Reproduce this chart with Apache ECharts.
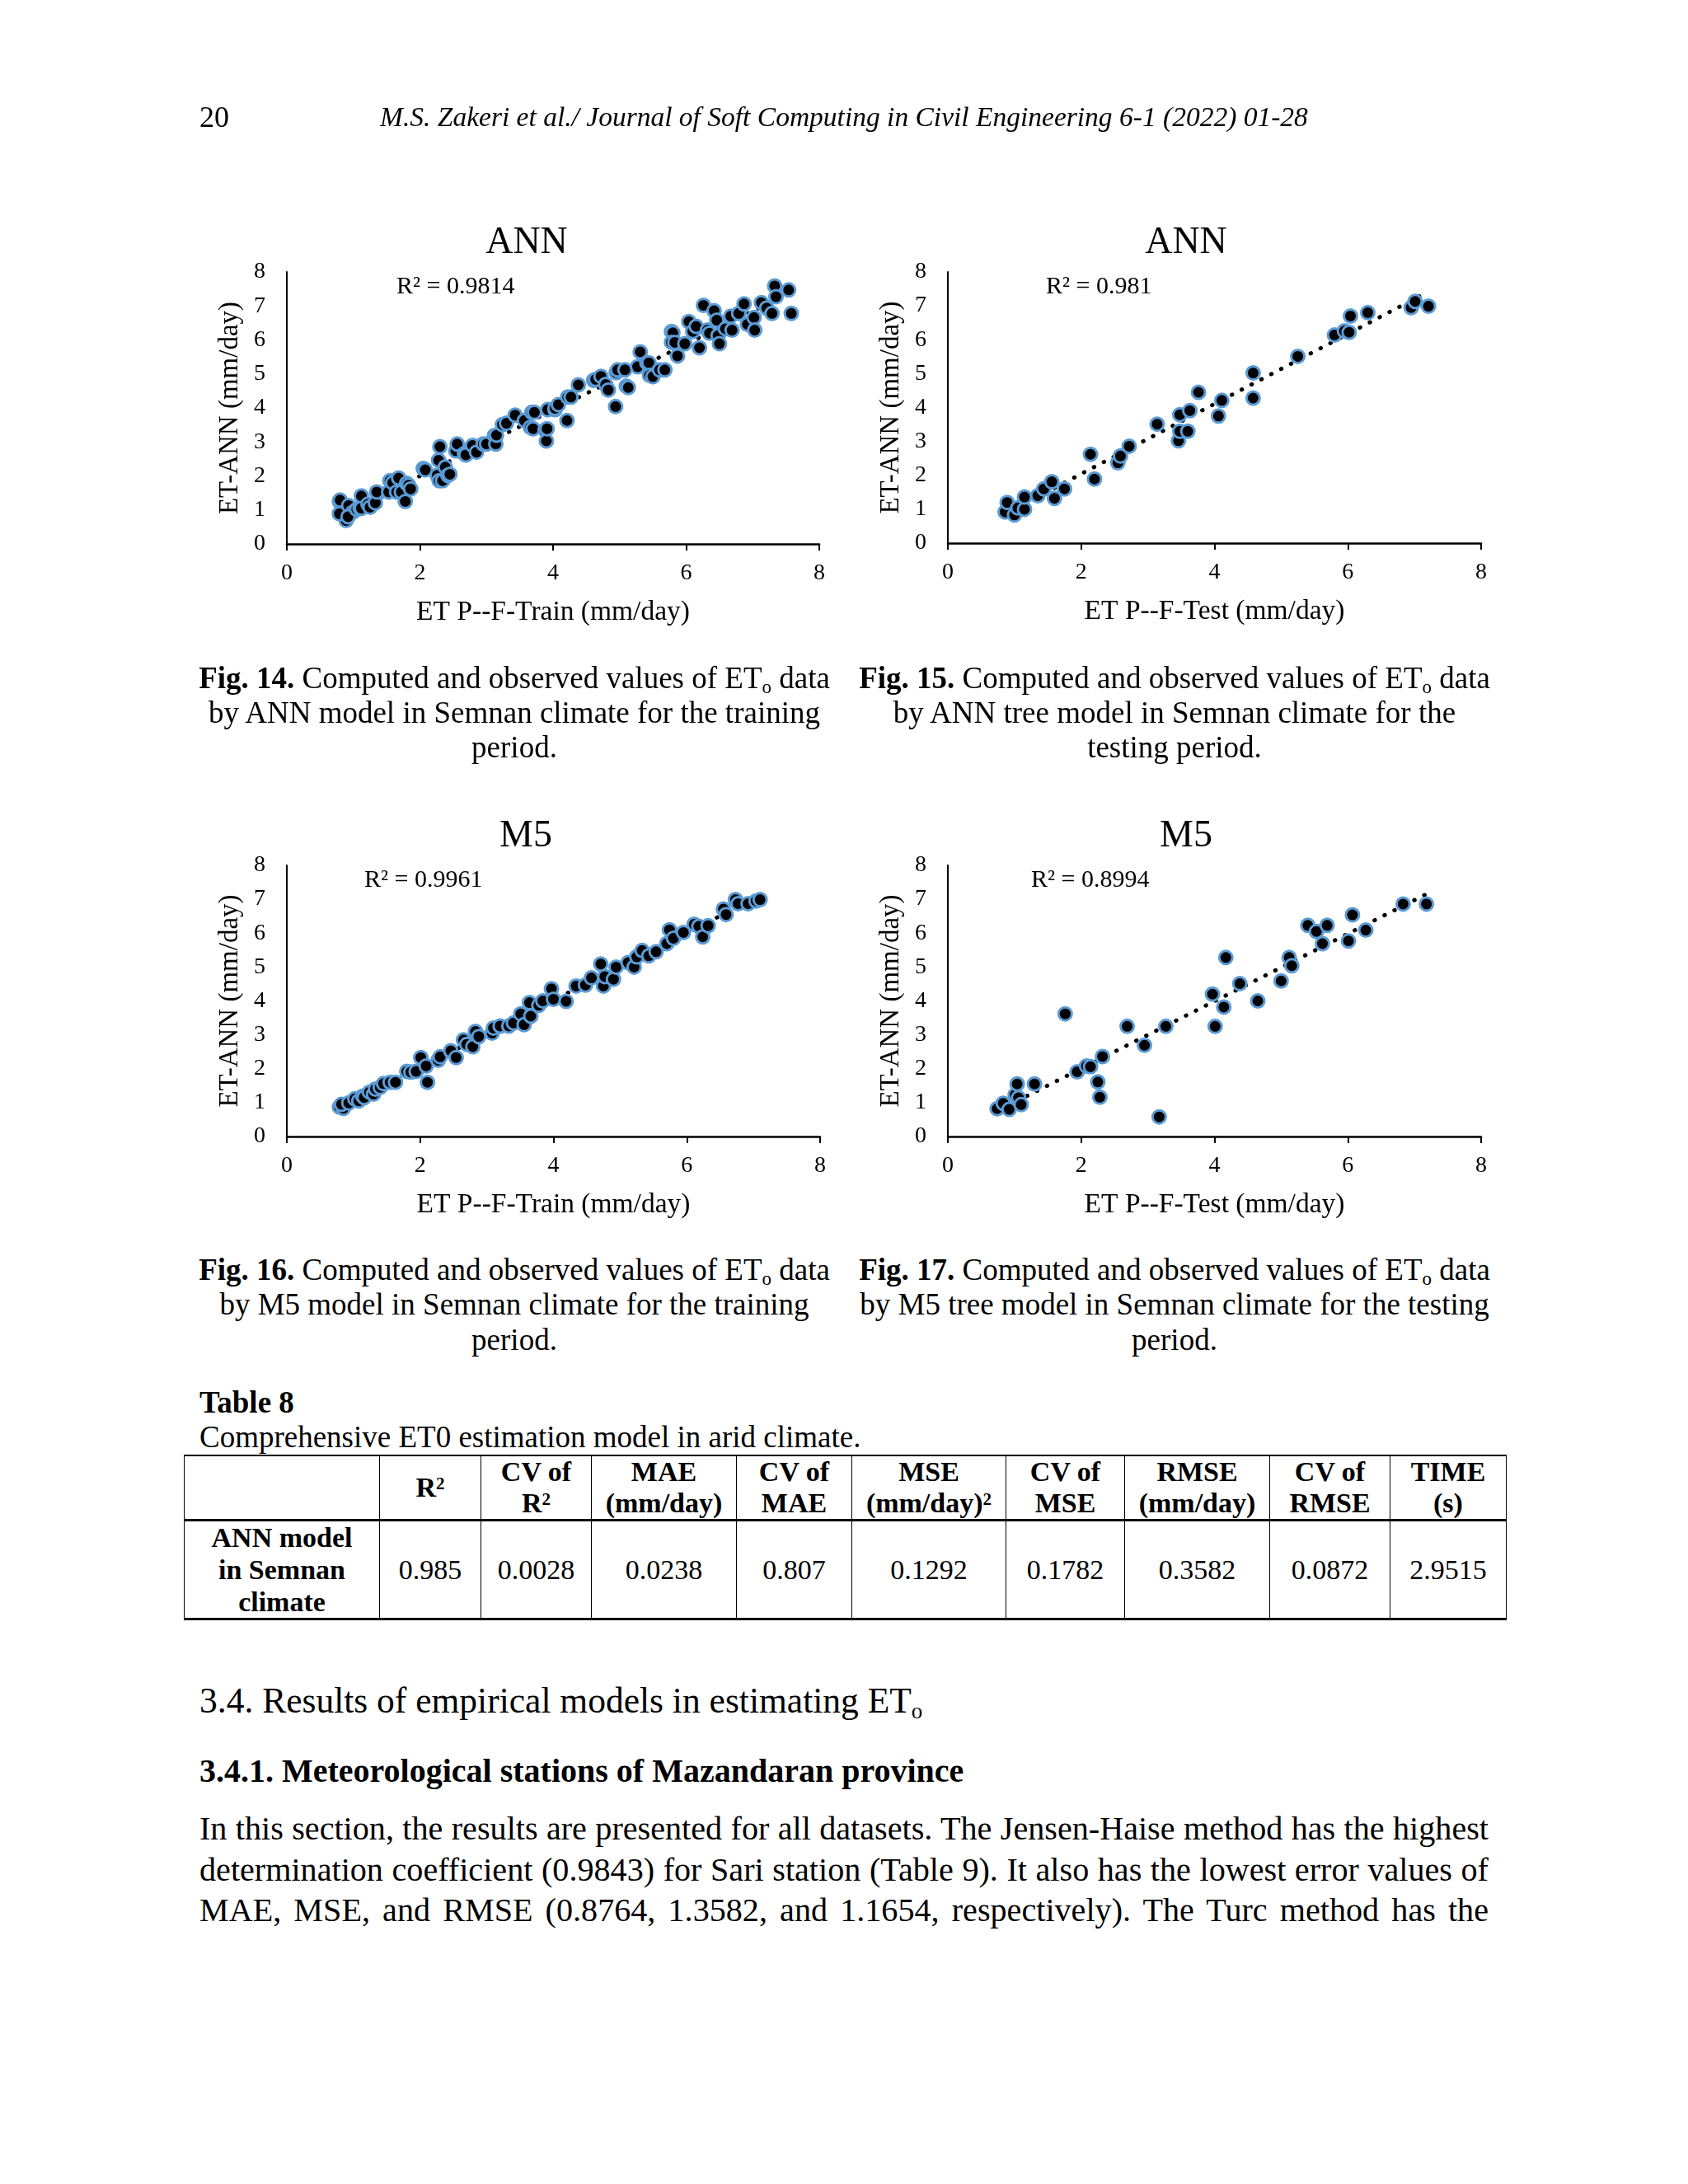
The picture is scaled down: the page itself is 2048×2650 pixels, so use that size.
<!DOCTYPE html>
<html><head><meta charset="utf-8">
<script src="https://cdn.jsdelivr.net/npm/echarts@6/dist/echarts.min.js"></script>
<style>
html,body{margin:0;padding:0;background:#fff;}
body{width:2048px;height:2650px;position:relative;overflow:hidden;font-family:'Liberation Serif','Times New Roman',serif;color:#000;}
#chart{position:absolute;left:0;top:0;width:2048px;height:1500px;z-index:0;}
.t{position:absolute;white-space:nowrap;z-index:1;height:44px;line-height:44px;font-size:37px;}
.c{text-align:center;width:860px;}
.j{width:1564px;text-align:justify;text-align-last:justify;}
sub{font-size:0.62em;vertical-align:-0.25em;line-height:0;}
sup{font-size:0.62em;vertical-align:0.45em;line-height:0;}
table{position:absolute;left:223px;top:1765px;border-collapse:collapse;z-index:1;font-size:34px;table-layout:fixed;}
td{border-left:1.5px solid #000;border-right:1.5px solid #000;text-align:center;vertical-align:middle;padding:0;line-height:38px;}
tr.h td{height:76px;font-weight:bold;border-top:2px solid #000;border-bottom:3px solid #000;}
tr.b td{height:115px;border-bottom:3px solid #000;line-height:39px;}
</style></head>
<body>
<div id="chart"></div>

<div class="t" style="left:242px;top:120px;font-size:36px;">20</div>
<div class="t" style="left:461px;top:120px;font-size:33.5px;font-style:italic;">M.S. Zakeri et al./ Journal of Soft Computing in Civil Engineering 6-1 (2022) 01-28</div>

<div class="t c" style="left:194px;top:801px;"><b>Fig. 14.</b> Computed and observed values of ET<sub>o</sub> data</div>
<div class="t c" style="left:194px;top:843px;">by ANN model in Semnan climate for the training</div>
<div class="t c" style="left:194px;top:885px;">period.</div>
<div class="t c" style="left:995px;top:801px;"><b>Fig. 15.</b> Computed and observed values of ET<sub>o</sub> data</div>
<div class="t c" style="left:995px;top:843px;">by ANN tree model in Semnan climate for the</div>
<div class="t c" style="left:995px;top:885px;">testing period.</div>

<div class="t c" style="left:194px;top:1519px;"><b>Fig. 16.</b> Computed and observed values of ET<sub>o</sub> data</div>
<div class="t c" style="left:194px;top:1561px;">by M5 model in Semnan climate for the training</div>
<div class="t c" style="left:194px;top:1604px;">period.</div>
<div class="t c" style="left:995px;top:1519px;"><b>Fig. 17.</b> Computed and observed values of ET<sub>o</sub> data</div>
<div class="t c" style="left:995px;top:1561px;">by M5 tree model in Semnan climate for the testing</div>
<div class="t c" style="left:995px;top:1604px;">period.</div>

<div class="t" style="left:242px;top:1680px;font-weight:bold;">Table 8</div>
<div class="t" style="left:242px;top:1722px;">Comprehensive ET0 estimation model in arid climate.</div>

<table>
<colgroup><col style="width:237px"><col style="width:123px"><col style="width:134px"><col style="width:176px"><col style="width:140px"><col style="width:187px"><col style="width:144px"><col style="width:176px"><col style="width:146px"><col style="width:141px"></colgroup>
<tr class="h" id="hdr"></tr>
<tr class="b" id="row"></tr>
</table>

<div class="t" style="left:242px;top:2038px;font-size:43.5px;height:50px;line-height:50px;">3.4. Results of empirical models in estimating ET<sub>o</sub></div>
<div class="t" style="left:242px;top:2127px;font-size:40px;font-weight:bold;">3.4.1. Meteorological stations of Mazandaran province</div>
<div class="t j body" id="b1" style="left:242px;top:2195px;height:48px;line-height:48px;">In this section, the results are presented for all datasets. The Jensen-Haise method has the highest</div>
<div class="t j body" style="left:242px;top:2245px;height:48px;line-height:48px;">determination coefficient (0.9843) for Sari station (Table 9). It also has the lowest error values of</div>
<div class="t j body" style="left:242px;top:2294px;height:48px;line-height:48px;">MAE, MSE, and RMSE (0.8764, 1.3582, and 1.1654, respectively). The Turc method has the</div>

<script>
// ---------- data ----------
const tableHeaders = ['', 'R<sup>2</sup>', 'CV of<br>R<sup>2</sup>', 'MAE<br>(mm/day)', 'CV of<br>MAE', 'MSE<br>(mm/day)<sup>2</sup>', 'CV of<br>MSE', 'RMSE<br>(mm/day)', 'CV of<br>RMSE', 'TIME<br>(s)'];
const tableRowLabel = 'ANN model<br>in Semnan<br>climate';
const tableValues = ['0.985', '0.0028', '0.0238', '0.807', '0.1292', '0.1782', '0.3582', '0.0872', '2.9515'];

const xTicks = [0, 2, 4, 6, 8];
const yTicks = [0, 1, 2, 3, 4, 5, 6, 7, 8];

const chartTitles = ['ANN', 'ANN', 'M5', 'M5'];
const r2Labels = ['R² = 0.9814', 'R² = 0.981', 'R² = 0.9961', 'R² = 0.8994'];
const xNames = ['ET P--F-Train (mm/day)', 'ET P--F-Test (mm/day)', 'ET P--F-Train (mm/day)', 'ET P--F-Test (mm/day)'];
const yName = 'ET-ANN (mm/day)';

const annTrain = [[0.79,1.25],[0.80,1.29],[0.89,0.69],[0.79,0.89],[0.93,1.13],[0.99,0.93],[0.92,0.80],[1.05,1.02],[1.10,1.05],[1.12,1.41],[1.12,1.05],[1.22,1.17],[1.25,1.08],[1.37,1.49],[1.33,1.21],[1.35,1.53],[1.55,1.86],[1.53,1.53],[1.59,1.80],[1.65,1.53],[1.68,1.94],[1.72,1.53],[1.78,1.25],[1.80,1.78],[1.83,1.73],[1.86,1.62],[2.05,2.22],[2.08,2.18],[2.30,2.86],[2.28,2.46],[2.26,2.02],[2.29,1.86],[2.34,1.86],[2.38,2.26],[2.42,2.02],[2.45,2.05],[2.54,2.74],[2.56,2.94],[2.67,2.66],[2.69,2.62],[2.79,2.90],[2.85,2.70],[2.95,2.94],[3.00,2.94],[3.12,3.19],[3.14,2.94],[3.15,3.20],[3.24,3.51],[3.30,3.55],[3.43,3.79],[3.57,3.63],[3.66,3.43],[3.68,3.87],[3.70,3.39],[3.72,3.87],[3.88,3.35],[3.90,3.03],[3.91,3.39],[3.92,3.95],[4.03,3.95],[4.03,3.99],[4.08,4.10],[4.21,3.63],[4.22,4.32],[4.27,4.32],[4.38,4.68],[4.61,4.81],[4.64,4.84],[4.72,4.93],[4.79,4.69],[4.83,4.53],[4.94,4.04],[4.95,5.04],[4.97,5.12],[5.08,5.12],[5.10,4.64],[5.13,4.60],[5.27,5.21],[5.31,5.65],[5.41,5.33],[5.44,5.33],[5.45,4.96],[5.50,4.92],[5.60,5.12],[5.68,5.12],[5.78,6.25],[5.80,6.21],[5.78,5.93],[5.83,5.93],[5.87,5.53],[5.98,5.89],[6.04,6.54],[6.10,6.25],[6.15,6.40],[6.20,5.77],[6.26,7.02],[6.32,6.29],[6.35,6.20],[6.42,6.86],[6.46,6.58],[6.48,6.13],[6.50,5.89],[6.59,6.33],[6.67,6.70],[6.69,6.29],[6.79,6.78],[6.87,7.06],[6.92,6.46],[7.02,6.66],[7.03,6.29],[7.13,7.10],[7.21,6.94],[7.29,6.78],[7.33,7.59],[7.35,7.27],[7.54,7.47],[7.58,6.78]];

const annTest = [[0.86,0.92],[0.89,1.20],[1.00,0.83],[1.05,1.04],[1.15,1.00],[1.15,1.36],[1.35,1.40],[1.44,1.60],[1.56,1.81],[1.60,1.32],[1.75,1.60],[2.14,2.62],[2.20,1.89],[2.55,2.37],[2.59,2.57],[2.72,2.86],[3.14,3.51],[3.46,3.02],[3.48,3.30],[3.48,3.79],[3.60,3.30],[3.63,3.91],[3.76,4.45],[4.06,3.75],[4.11,4.21],[4.58,5.02],[4.58,4.28],[5.25,5.51],[5.80,6.14],[5.95,6.26],[6.02,6.22],[6.04,6.70],[6.30,6.80],[6.95,6.95],[7.01,7.13],[7.21,6.99]];

const m5Train = [[0.79,0.87],[0.85,0.83],[0.82,0.95],[0.93,0.99],[1.02,1.11],[1.08,1.05],[1.14,1.19],[1.16,1.15],[1.24,1.31],[1.30,1.25],[1.33,1.40],[1.40,1.45],[1.45,1.56],[1.55,1.60],[1.63,1.60],[1.80,1.92],[1.86,1.90],[1.94,1.92],[2.01,2.33],[2.11,1.60],[2.09,2.08],[2.27,2.25],[2.30,2.35],[2.46,2.53],[2.54,2.33],[2.65,2.85],[2.70,2.72],[2.79,2.65],[2.83,3.10],[2.88,2.95],[3.08,3.05],[3.10,3.20],[3.20,3.26],[3.33,3.26],[3.40,3.35],[3.51,3.62],[3.56,3.30],[3.64,3.95],[3.66,3.55],[3.78,3.87],[3.84,4.00],[3.97,4.36],[4.00,4.05],[4.19,3.99],[4.34,4.44],[4.48,4.47],[4.57,4.68],[4.71,5.09],[4.75,4.44],[4.77,4.72],[4.90,4.64],[4.94,5.00],[5.12,5.13],[5.21,5.00],[5.25,5.30],[5.33,5.49],[5.43,5.33],[5.54,5.45],[5.70,5.69],[5.74,6.10],[5.80,5.85],[5.95,6.02],[6.11,6.26],[6.18,6.20],[6.24,5.89],[6.32,6.22],[6.55,6.71],[6.59,6.55],[6.73,6.99],[6.77,6.87],[6.92,6.87],[7.04,6.95],[7.10,6.99]];

const m5Test = [[0.74,0.82],[0.83,0.98],[0.92,0.80],[1.01,1.23],[1.06,1.14],[1.10,0.94],[1.04,1.55],[1.30,1.55],[1.76,3.62],[1.94,1.91],[2.08,2.08],[2.14,2.06],[2.25,1.61],[2.28,1.16],[2.32,2.36],[2.69,3.25],[2.95,2.69],[3.17,0.58],[3.27,3.25],[3.97,4.20],[4.01,3.25],[4.14,3.82],[4.17,5.28],[4.38,4.51],[4.65,4.00],[5.00,4.59],[5.12,5.28],[5.16,5.04],[5.40,6.23],[5.53,6.05],[5.62,5.69],[5.69,6.23],[6.01,5.77],[6.07,6.54],[6.27,6.09],[6.83,6.86],[7.18,6.86]];

const datasets = [annTrain, annTest, m5Train, m5Test];

// ---------- body text: size so the first justified line has natural width ----------
(function () {
  const el = document.getElementById('b1');
  const ctx = document.createElement('canvas').getContext('2d');
  ctx.font = "100px 'Liberation Serif'";
  const w = ctx.measureText(el.textContent).width;
  const fs = Math.min(42, 100 * 1560 / w);
  document.querySelectorAll('.body').forEach(d => d.style.fontSize = fs + 'px');
})();

// ---------- table ----------
document.getElementById('hdr').innerHTML = tableHeaders.map(h => '<td>' + h + '</td>').join('');
document.getElementById('row').innerHTML = '<td style="font-weight:bold">' + tableRowLabel + '</td>' + tableValues.map(v => '<td>' + v + '</td>').join('');

// ---------- charts ----------
const FF = "'Liberation Serif','Times New Roman',serif";
const grids = [
  {left: 348, top: 330, width: 646, height: 330},
  {left: 1150, top: 330, width: 647, height: 329},
  {left: 348, top: 1050, width: 647, height: 329},
  {left: 1150, top: 1050, width: 647, height: 329}
];
const titlePos = [[639, 295], [1439, 295], [638, 1015], [1439, 1015]];
const r2Pos = [[481, 348], [1269, 348], [442, 1068], [1251, 1068]];

function trend(pts) {
  const n = pts.length;
  let sx = 0, sy = 0, sxx = 0, sxy = 0, mn = Infinity, mx = -Infinity;
  pts.forEach(p => { sx += p[0]; sy += p[1]; sxx += p[0]*p[0]; sxy += p[0]*p[1]; mn = Math.min(mn, p[0]); mx = Math.max(mx, p[0]); });
  const b = (n*sxy - sx*sy) / (n*sxx - sx*sx);
  const a = (sy - b*sx) / n;
  return [[mn, a + b*mn], [mx, a + b*mx]];
}

const xAxes = [], yAxes = [], series = [], graphics = [];
grids.forEach((g, i) => {
  xAxes.push({
    gridIndex: i, type: 'value', min: xTicks[0], max: xTicks[xTicks.length-1], interval: xTicks[1]-xTicks[0],
    axisLine: {show: true, onZero: false, lineStyle: {color: '#000', width: 2.5}},
    axisTick: {show: true, length: 8, lineStyle: {color: '#000', width: 2}},
    splitLine: {show: false},
    axisLabel: {color: '#000', fontSize: 28, fontFamily: FF, margin: 22, rotate: 0},
    name: xNames[i], nameLocation: 'middle', nameGap: 66,
    nameTextStyle: {color: '#000', fontSize: 33.5, fontFamily: FF}
  });
  yAxes.push({
    gridIndex: i, type: 'value', min: yTicks[0], max: yTicks[yTicks.length-1], interval: yTicks[1]-yTicks[0],
    axisLine: {show: true, onZero: false, lineStyle: {color: '#000', width: 2}},
    axisTick: {show: false},
    splitLine: {show: false},
    axisLabel: {color: '#000', fontSize: 28, fontFamily: FF, margin: 26, rotate: 0},
    name: yName, nameLocation: 'middle', nameGap: 52, nameRotate: 90,
    nameTextStyle: {color: '#000', fontSize: 33, fontFamily: FF}
  });
  series.push({
    type: 'line', xAxisIndex: i, yAxisIndex: i, data: trend(datasets[i]), symbol: 'none', z: 1,
    silent: true, animation: false,
    lineStyle: {color: '#000', width: 5, type: [0.5, 13], cap: 'round'}
  });
  series.push({
    type: 'scatter', xAxisIndex: i, yAxisIndex: i, data: datasets[i], z: 2,
    symbol: 'circle', symbolSize: 16, animation: false,
    itemStyle: {color: '#000', borderColor: '#5B9BD5', borderWidth: 3, opacity: 1}
  });
  graphics.push({type: 'text', x: titlePos[i][0], y: titlePos[i][1], style: {text: chartTitles[i], font: '46px ' + FF, fill: '#000', textAlign: 'center', textVerticalAlign: 'middle'}});
  graphics.push({type: 'text', x: r2Pos[i][0], y: r2Pos[i][1], style: {text: r2Labels[i], font: '30px ' + FF, fill: '#000', textAlign: 'left', textVerticalAlign: 'middle'}});
});

const chart = echarts.init(document.getElementById('chart'), null, {renderer: 'canvas'});
chart.setOption({
  backgroundColor: 'transparent',
  animation: false,
  grid: grids.map(g => Object.assign({containLabel: false}, g)),
  xAxis: xAxes, yAxis: yAxes, series: series, graphic: graphics
});
</script>
</body></html>
